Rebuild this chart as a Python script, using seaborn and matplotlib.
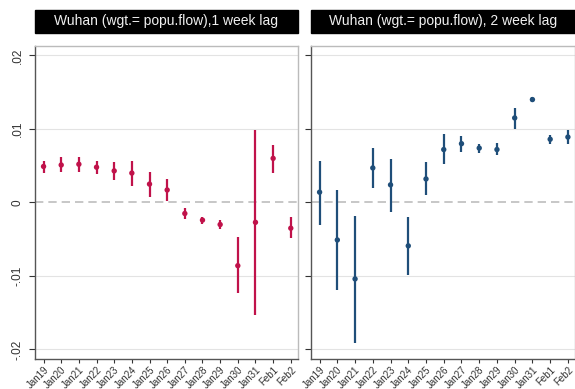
import pandas as pd
import matplotlib.pyplot as plt
import seaborn as sns
from matplotlib.patches import Rectangle

sns.set_theme(style="white")
plt.rcParams['font.family'] = ['Liberation Sans', 'DejaVu Sans']

days = ["Jan19", "Jan20", "Jan21", "Jan22", "Jan23", "Jan24", "Jan25", "Jan26",
        "Jan27", "Jan28", "Jan29", "Jan30", "Jan31", "Feb1", "Feb2"]

# 1 week lag
coef_1w = [0.0049, 0.0051, 0.0052, 0.0048, 0.0043, 0.0040, 0.0025, 0.0017,
           -0.0015, -0.0024, -0.0030, -0.0086, -0.0027, 0.0060, -0.0035]
lo_1w = [0.0040, 0.0042, 0.0042, 0.0039, 0.0031, 0.0022, 0.0008, 0.0002,
         -0.0022, -0.0029, -0.0036, -0.0123, -0.0153, 0.0040, -0.0049]
hi_1w = [0.0057, 0.0062, 0.0062, 0.0057, 0.0055, 0.0057, 0.0041, 0.0032,
         -0.0008, -0.0020, -0.0024, -0.0047, 0.0099, 0.0078, -0.0020]

# 2 week lag
coef_2w = [0.0014, -0.0051, -0.0104, 0.0047, 0.0024, -0.0059, 0.0032, 0.0072,
           0.0080, 0.0074, 0.0072, 0.0115, 0.0140, 0.0086, 0.0089]
lo_2w = [-0.0031, -0.0119, -0.0191, 0.0020, -0.0013, -0.0098, 0.0010, 0.0052,
         0.0069, 0.0067, 0.0064, 0.0100, 0.0137, 0.0080, 0.0080]
hi_2w = [0.0057, 0.0017, -0.0019, 0.0074, 0.0059, -0.0020, 0.0055, 0.0093,
         0.0090, 0.0080, 0.0081, 0.0129, 0.0143, 0.0092, 0.0098]

titles = ["Wuhan (wgt.= popu.flow),1 week lag", "Wuhan (wgt.= popu.flow), 2 week lag"]
colors = ["#C0124A", "#1F4E79"]

fig = plt.figure(figsize=(5.75, 3.89), dpi=100)
ax1 = fig.add_axes([0.061, 0.077, 0.457, 0.805])
ax2 = fig.add_axes([0.541, 0.077, 0.459, 0.805], sharey=ax1)

panels = [(ax1, coef_1w, lo_1w, hi_1w), (ax2, coef_2w, lo_2w, hi_2w)]
for i, (ax, b, lo, hi) in enumerate(panels):
    df = pd.DataFrame({"day": days, "b": b, "lo": lo, "hi": hi})
    for y in [-0.02, -0.01, 0.01, 0.02]:
        ax.axhline(y, color="#e3e3e3", lw=0.8, zorder=0)
    ax.axhline(0, color="#bdbdbd", lw=1.2, ls=(0, (5, 3)), zorder=0)
    ax.vlines(df["day"], df["lo"], df["hi"], color=colors[i], lw=1.6, zorder=2)
    sns.scatterplot(data=df, x="day", y="b", ax=ax, color=colors[i], s=15,
                    edgecolor="none", zorder=3)
    ax.set_xlim(-0.48, 14.4)
    ax.set_ylim(-0.0213, 0.0213)
    ax.set_xlabel("")
    ax.set_ylabel("")
    ax.set_yticks([-0.02, -0.01, 0, 0.01, 0.02])
    ax.set_yticklabels(["-.02", "-.01", "0", ".01", ".02"])
    ax.tick_params(axis="x", labelsize=7, rotation=45, length=3, width=0.8,
                   colors="#333333", pad=1, direction="out", bottom=True)
    ax.tick_params(axis="y", labelsize=8.5, length=4, width=0.8, colors="#333333",
                   direction="out", left=True, pad=4)
    for lab in ax.get_xticklabels():
        lab.set_ha("right")
        lab.set_rotation_mode("anchor")
    for lab in ax.get_yticklabels():
        lab.set_rotation(90)
        lab.set_va("center")
    for side in ["top", "right"]:
        ax.spines[side].set_color("#bbbbbb")
        ax.spines[side].set_linewidth(1.0)
    for side in ["left", "bottom"]:
        ax.spines[side].set_color("#555555")
        ax.spines[side].set_linewidth(1.0)
    ax.add_patch(Rectangle((0, 1.042), 1, 0.073, transform=ax.transAxes,
                           color="black", clip_on=False))
    ax.text(0.5, 1.078, titles[i], transform=ax.transAxes, color="#f0f0f0",
            ha="center", va="center", fontsize=10)

ax2.tick_params(axis="y", labelleft=False)

fig.savefig("out.png", dpi=100)
